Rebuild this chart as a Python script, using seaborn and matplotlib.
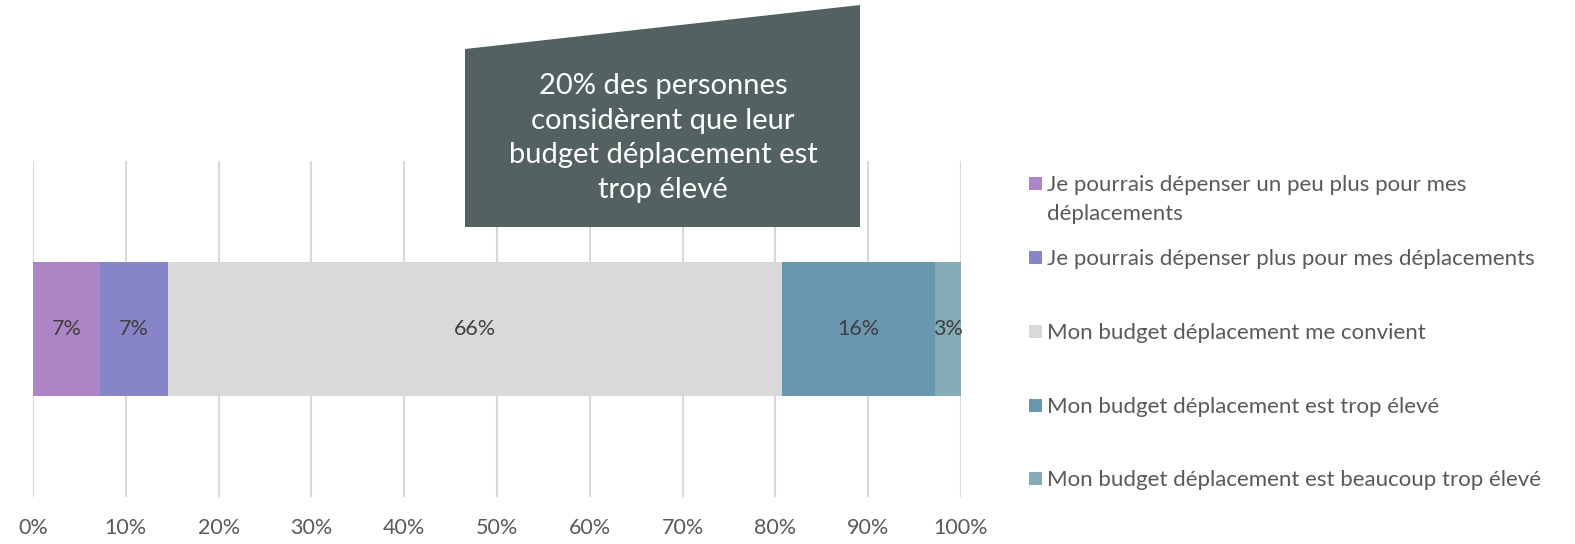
import matplotlib
matplotlib.use("Agg")
import matplotlib.pyplot as plt
from matplotlib.patches import Polygon, Rectangle
import numpy as np
import seaborn as sns

# données (en %)
categories = [
    "Je pourrais dépenser un peu plus pour mes\ndéplacements",
    "Je pourrais dépenser plus pour mes déplacements",
    "Mon budget déplacement me convient",
    "Mon budget déplacement est trop élevé",
    "Mon budget déplacement est beaucoup trop élevé",
]
values = [7.2, 7.4, 66.1, 16.5, 2.8]
colors = ["#AD84C6", "#8784C7", "#D9D9D9", "#6997AF", "#84ACB6"]
tick_values = [0, 10, 20, 30, 40, 50, 60, 70, 80, 90, 100]
tick_labels = [f"{t}%" for t in tick_values]
callout_text = "20% des personnes\nconsidèrent que leur\nbudget déplacement est\ntrop élevé"

sns.set_theme(style="whitegrid")
plt.rcParams["font.family"] = ["Lato", "DejaVu Sans"]

W, H = 1575, 544
fig = plt.figure(figsize=(W / 100, H / 100), dpi=100)
ax = fig.add_axes([33 / W, 47 / H, 928 / W, 336 / H])

# barres empilées : on dessine les cumuls du plus grand au plus petit
cum = np.cumsum(values)
for i in reversed(range(len(values))):
    sns.barplot(x=[cum[i]], y=["r"], color=colors[i], width=0.4, saturation=1,
                orient="h", linewidth=0, ax=ax)

for i, v in enumerate(values):
    ax.text(cum[i] - v / 2, 0, f"{round(v)}%", ha="center", va="center",
            color="#404040", fontsize=15.5)

ax.set_xlim(0, 100)
ax.set_xticks(tick_values)
ax.set_xticklabels(tick_labels, color="#595959", fontsize=15.5)
ax.set_yticks([])
ax.set_xlabel("")
ax.set_ylabel("")
ax.tick_params(axis="x", length=0, pad=15)
ax.grid(axis="x", color="#D9D9D9", linewidth=1.5)
ax.grid(axis="y", visible=False)
ax.set_axisbelow(True)
for s in ax.spines.values():
    s.set_visible(False)

# encadré
def fx(px):
    return px / W

def fy(py):
    return 1 - py / H

poly = Polygon([(fx(465), fy(227)), (fx(860), fy(227)), (fx(860), fy(5)), (fx(465), fy(49))],
               closed=True, transform=fig.transFigure, facecolor="#536160", edgecolor="none",
               zorder=5)
fig.patches.append(poly)
fig.text(fx(663), fy(138), callout_text, ha="center", va="center", color="white",
         fontsize=21, linespacing=1.42, zorder=6)

# légende
rows = [183, 257, 331, 405, 478]
for lab, col, y in zip(categories, colors, rows):
    fig.patches.append(Rectangle((fx(1029), fy(y + 6.5)), 13 / W, 13 / H,
                                 transform=fig.transFigure, facecolor=col, edgecolor="none"))
    for k, line in enumerate(lab.split("\n")):
        fig.text(fx(1047), fy(y + 8 + 29 * k), line, ha="left", va="baseline",
                 color="#595959", fontsize=16)

fig.savefig("out.png", dpi=100)
